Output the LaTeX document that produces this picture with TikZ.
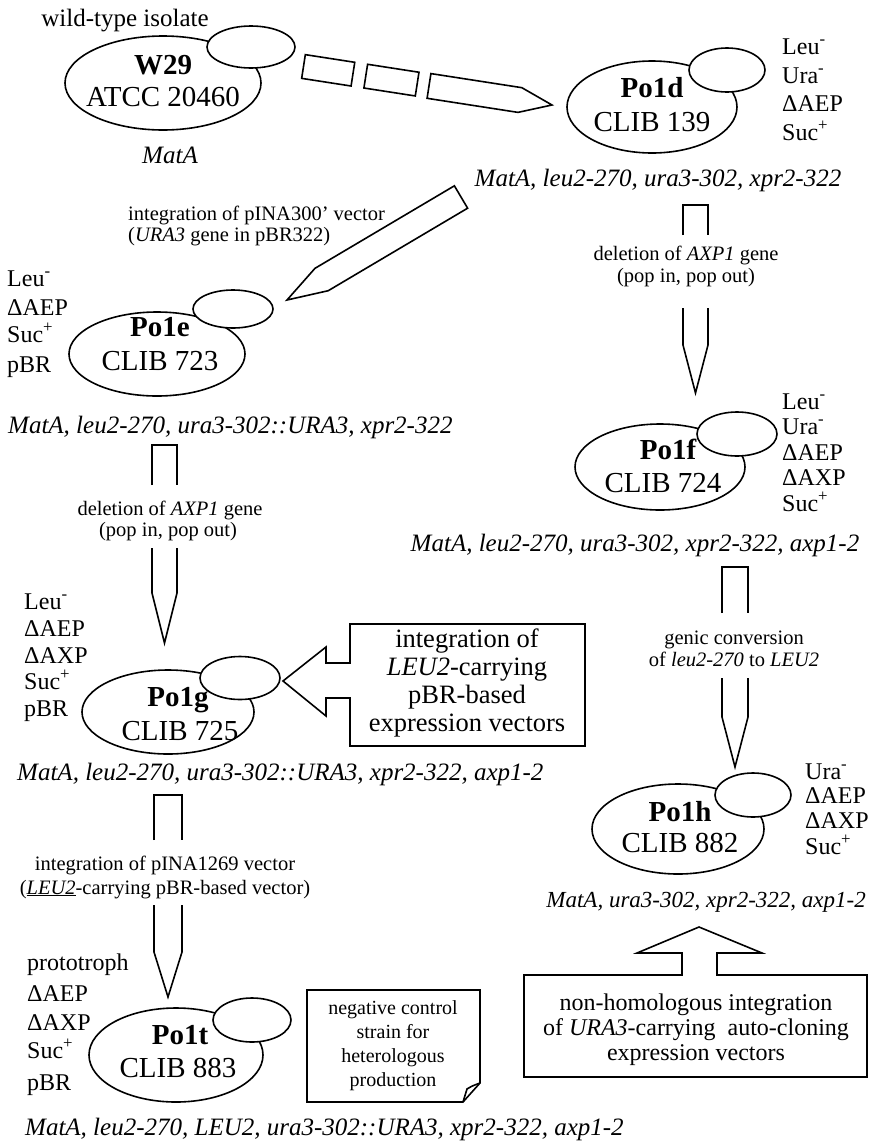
\documentclass[tikz,border=0pt]{standalone}
\usepackage{fontspec}
\setmainfont{Liberation Serif}
\usetikzlibrary{shapes.geometric,calc}
\newcommand{\fsz}[2]{\fontsize{#1}{#2}\selectfont}
\newcommand{\blkseg}[5]{%
 \path ($(#1)!#3!(#2)$) coordinate (q1) ($(#1)!#4!(#2)$) coordinate (q2);
 \draw[blk] ($(q1)!#5!90:(#2)$) -- ($(q2)!#5!90:(#2)$) -- ($(q2)!#5!-90:(#2)$) -- ($(q1)!#5!-90:(#2)$) -- cycle;}
\newcommand{\blkpencil}[5]{%
 \path ($(#1)!#3!(#2)$) coordinate (q1) ($(#1)!#4!(#2)$) coordinate (q2);
 \draw[blk] ($(q1)!#5!90:(#2)$) -- ($(q2)!#5!90:(#2)$) -- (#2) -- ($(q2)!#5!-90:(#2)$) -- ($(q1)!#5!-90:(#2)$) -- cycle;}
\newcommand{\splitarrow}[7]{%
 \draw[blk] (#1,#4) -- (#1,#3) -- (#2,#3) -- (#2,#4);
 \draw[blk] (#1,#5) -- (#1,#6) -- ({(#1+#2)/2},#7) -- (#2,#6) -- (#2,#5);}
\tikzset{
 blk/.style={draw=black, line width=1.6pt, line join=miter},
 bigell/.style={ellipse, draw, line width=1.6pt, inner sep=0pt},
 smallell/.style={ellipse, draw, fill=white, line width=1.6pt, inner sep=0pt},
 sname/.style={font=\fsz{29}{34}\bfseries, inner sep=0pt, text height=19pt, text depth=0pt},
 sclib/.style={font=\fsz{29}{34}, inner sep=0pt, text height=19pt, text depth=0pt},
 side/.style={font=\fsz{24}{28}, anchor=west, inner sep=0pt, text height=16pt, text depth=0pt},
 geno/.style={font=\fsz{25}{30}\itshape, inner sep=0pt, text height=17pt, text depth=0pt},
 proc/.style={font=\fsz{20.5}{24}, inner sep=0pt, text height=14pt, text depth=0pt},
 boxtxt/.style={align=center, inner sep=0pt},
}
\begin{document}
\begin{tikzpicture}[x=1pt,y=-1pt]
\useasboundingbox[fill=white] (0,0) rectangle (870,1141);

% ---------- W29 ----------
\node[font=\fsz{25}{30}, inner sep=0pt, text height=17pt, text depth=0pt] (wt) at (125,18) {wild-type isolate};
\node[bigell, minimum width=196pt, minimum height=94pt] (w29) at (163,83) {};
\node[smallell, minimum width=88pt, minimum height=42pt] (w29s) at (251,47) {};
\node[sname] (w29n) at (163,65) {W29};
\node[sclib] (w29c) at (163,97) {ATCC 20460};
\node[geno] (w29g) at (170,155) {MatA};

% dashed block arrow W29 -> Po1d
\coordinate (dA) at (303.5,66.5);
\coordinate (dB) at (552,105);
\blkseg{dA}{dB}{0pt}{50pt}{12pt}
\blkseg{dA}{dB}{63pt}{115pt}{12pt}
\blkpencil{dA}{dB}{127pt}{219pt}{12.5pt}

% ---------- Po1d ----------
\node[bigell, minimum width=170pt, minimum height=92pt] (p1d) at (652,107) {};
\node[smallell, minimum width=76pt, minimum height=44pt] (p1ds) at (727,70) {};
\node[sname] (p1dn) at (652,88) {Po1d};
\node[sclib] (p1dc) at (652,122) {CLIB 139};
\node[side] (p1d1) at (782,46) {Leu\textsuperscript{-}};
\node[side] (p1d2) at (782,75) {Ura\textsuperscript{-}};
\node[side] (p1d3) at (782,103) {ΔAEP};
\node[side] (p1d4) at (782,132) {Suc\textsuperscript{+}};
\node[geno] (p1dg) at (658,178) {MatA, leu2-270, ura3-302, xpr2-322};

% diagonal arrow Po1d -> Po1e
\coordinate (iA) at (461,197);
\coordinate (iB) at (287,300);
\blkpencil{iA}{iB}{0pt}{162pt}{13pt}
\node[proc, anchor=west] (l1a) at (128,213) {integration of pINA300’ vector};
\node[proc, anchor=west] (l1b) at (128,234) {(\textit{URA3} gene in pBR322)};

% ---------- Po1e ----------
\node[bigell, minimum width=176pt, minimum height=84pt] (p1e) at (157,354) {};
\node[smallell, minimum width=80pt, minimum height=38pt] (p1es) at (233,309) {};
\node[sname] (p1en) at (160,327) {Po1e};
\node[sclib] (p1ec) at (160,361) {CLIB 723};
\node[side] (p1e1) at (7,278) {Leu\textsuperscript{-}};
\node[side] (p1e2) at (7,307) {ΔAEP};
\node[side] (p1e3) at (7,334) {Suc\textsuperscript{+}};
\node[side] (p1e4) at (7,364) {pBR};
\node[geno, anchor=west] (p1eg) at (8,425) {MatA, leu2-270, ura3-302::URA3, xpr2-322};

% arrow Po1d -> Po1f
\splitarrow{683}{708}{205}{235}{308}{345}{393}
\node[proc] (l2a) at (686,253) {deletion of \textit{AXP1} gene};
\node[proc] (l2b) at (686,275) {(pop in, pop out)};

% ---------- Po1f ----------
\node[bigell, minimum width=170pt, minimum height=86pt] (p1f) at (660,467) {};
\node[smallell, minimum width=80pt, minimum height=44pt] (p1fs) at (737,434) {};
\node[sname] (p1fn) at (668,450) {Po1f};
\node[sclib] (p1fc) at (663,483) {CLIB 724};
\node[side] (p1f1) at (782,401) {Leu\textsuperscript{-}};
\node[side] (p1f2) at (782,426) {Ura\textsuperscript{-}};
\node[side] (p1f3) at (782,452) {ΔAEP};
\node[side] (p1f4) at (782,477) {ΔAXP};
\node[side] (p1f5) at (782,503) {Suc\textsuperscript{+}};
\node[geno] (p1fg) at (635,543) {MatA, leu2-270, ura3-302, xpr2-322, axp1-2};

% arrow Po1e -> Po1g
\splitarrow{152}{177}{445}{485}{548}{593}{643}
\node[proc] (l3a) at (170,508) {deletion of \textit{AXP1} gene};
\node[proc] (l3b) at (168,529) {(pop in, pop out)};

% ---------- Po1g ----------
\node[bigell, minimum width=172pt, minimum height=84pt] (p1g) at (168,712) {};
\node[smallell, minimum width=80pt, minimum height=43pt] (p1gs) at (240,678) {};
\node[sname] (p1gn) at (178,697) {Po1g};
\node[sclib] (p1gc) at (180,731) {CLIB 725};
\node[side] (p1g1) at (24,601) {Leu\textsuperscript{-}};
\node[side] (p1g2) at (24,628) {ΔAEP};
\node[side] (p1g3) at (24,655) {ΔAXP};
\node[side] (p1g4) at (24,681) {Suc\textsuperscript{+}};
\node[side] (p1g5) at (24,708) {pBR};
\node[geno, anchor=west] (p1gg) at (17,772) {MatA, leu2-270, ura3-302::URA3, xpr2-322, axp1-2};

% box with left block arrow -> Po1g
\draw[blk] (350,624) -- (350,663) -- (326,663) -- (326,647) -- (283,681) -- (326,716) -- (326,698) -- (350,698) -- (350,746) -- (585,746) -- (585,624) -- cycle;
\node[boxtxt, font=\fsz{26.5}{28}] (bx1) at (467,683) {integration of\\\textit{LEU2}-carrying\\pBR-based\\expression vectors};

% arrow Po1f -> Po1h
\splitarrow{722}{748}{567}{613}{678}{717}{767}
\node[proc] (l4a) at (734,637) {genic conversion};
\node[proc] (l4b) at (734,659) {of \textit{leu2-270} to \textit{LEU2}};

% ---------- Po1h ----------
\node[bigell, minimum width=172pt, minimum height=90pt] (p1h) at (678,829) {};
\node[smallell, minimum width=76pt, minimum height=44pt] (p1hs) at (753,795) {};
\node[sname] (p1hn) at (680,812) {Po1h};
\node[sclib] (p1hc) at (680,843) {CLIB 882};
\node[side] (p1h1) at (805,771) {Ura\textsuperscript{-}};
\node[side] (p1h2) at (805,795) {ΔAEP};
\node[side] (p1h3) at (805,820) {ΔAXP};
\node[side] (p1h4) at (805,846) {Suc\textsuperscript{+}};
\node[geno, font=\fsz{23}{28}\itshape, anchor=east] (p1hg) at (866,899) {MatA, ura3-302, xpr2-322, axp1-2};

% box with up block arrow -> Po1h
\draw[blk] (524,975) -- (682,975) -- (682,953) -- (637,953) -- (699,927) -- (762,953) -- (717,953) -- (717,975) -- (867,975) -- (867,1077) -- (524,1077) -- cycle;
\node[boxtxt, font=\fsz{24}{25}] (bx2) at (696,1030) {non-homologous integration\\of \textit{URA3}-carrying\ \ auto-cloning\\expression vectors};

% arrow Po1g -> Po1t
\splitarrow{154}{182}{795}{840}{905}{952}{997}
\node[proc] (l5a) at (165,863) {integration of pINA1269 vector};
\node[proc] (l5b) at (165,887) {(\underline{\textit{LEU2}}-carrying pBR-based vector)};

% ---------- Po1t ----------
\node[bigell, minimum width=174pt, minimum height=94pt] (p1t) at (176,1055) {};
\node[smallell, minimum width=78pt, minimum height=44pt] (p1ts) at (252,1020) {};
\node[sname] (p1tn) at (180,1035) {Po1t};
\node[sclib] (p1tc) at (178,1068) {CLIB 883};
\node[side] (p1t1) at (27,962) {prototroph};
\node[side] (p1t2) at (27,993) {ΔAEP};
\node[side] (p1t3) at (27,1022) {ΔAXP};
\node[side] (p1t4) at (27,1050) {Suc\textsuperscript{+}};
\node[side] (p1t5) at (27,1082) {pBR};
\node[geno, anchor=west] (p1tg) at (25,1127) {MatA, leu2-270, LEU2, ura3-302::URA3, xpr2-322, axp1-2};

% note
\draw[blk] (307,990) -- (480,990) -- (480,1083) -- (463,1102) -- (307,1102) -- cycle;
\draw[blk] (463,1102) -- (467,1089) .. controls (472,1086) .. (480,1083);
\node[boxtxt, font=\fsz{20}{24}] (nt) at (393,1046) {negative control\\strain for\\heterologous\\production};
\end{tikzpicture}
\end{document}
